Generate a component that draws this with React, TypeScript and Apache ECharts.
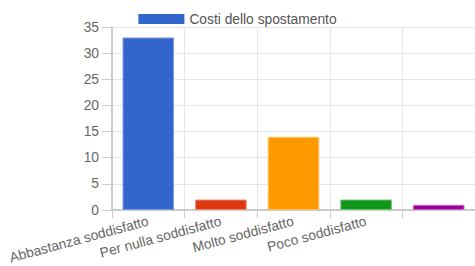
import React, { useEffect, useRef } from "react";
import * as echarts from "echarts";

const categories = [
  "Abbastanza soddisfatto",
  "Per nulla soddisfatto",
  "Molto soddisfatto",
  "Poco soddisfatto",
  "",
];
const values = [33, 2, 14, 2, 1];
const barColors = ["#3366cc", "#dc3912", "#ff9900", "#109618", "#990099"];
const borderColors = ["#7d9be0", "#ee8b74", "#ffc266", "#6fc375", "#c866c8"];
const seriesName = "Costi dello spostamento";

export default function App() {
  const ref = useRef<HTMLDivElement>(null);
  useEffect(() => {
    if (!ref.current) return;
    const chart = echarts.init(ref.current, undefined, { renderer: "svg" });
    chart.setOption({
      animation: false,
      textStyle: { fontFamily: "Liberation Sans, Arial, sans-serif" },
      legend: {
        show: true,
        top: 7,
        left: "center",
        itemWidth: 46,
        itemHeight: 10,
        itemGap: 8,
        icon: "rect",
        textStyle: { fontSize: 13.8, color: "#555" },
        data: [{ name: seriesName, itemStyle: { color: "#3366cc" } }],
      },
      grid: { left: 112, right: 0, top: 27, bottom: 56, containLabel: false },
      xAxis: {
        type: "category",
        data: categories,
        axisLine: { lineStyle: { color: "#ccc", width: 2 } },
        axisTick: { show: true, length: 8, lineStyle: { color: "#ccc" } },
        splitLine: { show: true, lineStyle: { color: "#e6e6e6" } },
        axisLabel: {
          interval: 0,
          rotate: 15,
          fontSize: 13.8,
          color: "#666",
          margin: 11,
        },
      },
      yAxis: {
        type: "value",
        min: 0,
        max: 35,
        interval: 5,
        axisLine: { show: true, lineStyle: { color: "#ccc", width: 2 } },
        axisTick: { show: true, length: 10, lineStyle: { color: "#ccc" } },
        splitLine: { show: true, lineStyle: { color: "#e6e6e6" } },
        axisLabel: { fontSize: 13.8, color: "#666", margin: 13 },
      },
      series: [
        {
          name: seriesName,
          type: "bar",
          barWidth: "71%",
          data: values.map((v, i) => ({
            value: v,
            itemStyle: {
              color: barColors[i],
              borderColor: borderColors[i],
              borderWidth: 1,
            },
          })),
        },
      ],
    });
    return () => chart.dispose();
  }, []);
  return <div ref={ref} style={{ width: 475, height: 266, position: "absolute", left: 0, top: 0 }} />;
}
